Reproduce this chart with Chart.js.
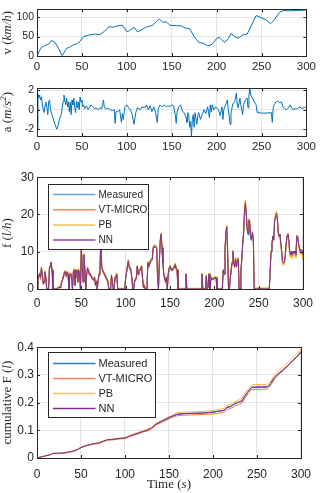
<!DOCTYPE html>
<html lang="en">
<head>
<meta charset="UTF-8">
<title>Fuel consumption</title>
<script src="https://cdn.jsdelivr.net/npm/chart.js"></script>
<style>
  body { margin: 0; background: #fff; }
  .wrap { position: relative; width: 320px; height: 493px; overflow: hidden; }
  canvas { position: absolute; left: 0; }
</style>
</head>
<body>
<div class="wrap">
  <canvas id="velChart" width="320" height="76" style="top:0px"></canvas>
  <canvas id="accChart" width="320" height="77" style="top:79px"></canvas>
  <canvas id="fuelChart" width="320" height="142" style="top:167px"></canvas>
  <canvas id="cumChart" width="320" height="156" style="top:337px"></canvas>
</div>
<script>
// ---- data ----
const timeTicks = [0, 50, 100, 150, 200, 250, 300]
const velTicks = [0, 50, 100]
const accTicks = [-2, 0, 2]
const fuelTicks = [0, 10, 20, 30]
const cumTicks = [0, 0.1, 0.2, 0.3, 0.4]
const seriesNames = ['Measured', 'VT-MICRO', 'PB', 'NN']

const velTime = [0,3,5,10,13,16,20,24,27,28, 30,33,36,40,45,48,52,55,60,65,
  70,75,80,85,90,95,100,103,108,112, 117,122,128,133,136,140,144,148,155,160,
  165,170,175,180,185,190,195,200,203,205, 209,213,216,220,224,230,234,238,244,250,
  255,260,264,270,275,280,290,300]
const velocity = [0,15,22,28,30,40,35,20,5,1, 8,20,22,28,32,38,50,52,55,56,
  55,63,75,74,78,79,63,65,74,62, 68,75,78,88,95,87,88,79,78,78,
  72,70,50,35,33,26,30,45,48,43, 35,45,58,50,46,55,56,75,104,98,
  93,83,92,112,117,116,117,118]

const accTime = [0,1,2,3,4,5,6,7,8,9, 10,11,12,13,14,15,16,17,18,20,
  22,23,25,27,29,30,31,32,33,34, 35,36,37,38,39,40,41,42,43,44,
  45,46,47,48,49,50,51,52,53,55, 57,60,62,64,66,68,70,72,73,74,
  75,78,80,82,84,86,87,88,90,92, 94,95,96,98,100,102,104,106,108,110,
  112,115,117,120,122,124,126,128,130,132, 134,135,137,139,142,144,146,148,150,152,
  154,155,156,158,160,162,164,166,167,168, 169,170,171,172,173,174,175,176,178,179,
  180,182,184,186,188,190,192,193,194,195, 197,199,200,202,204,206,207,208,210,212,
  213,214,215,216,218,220,222,223,224,226, 227,228,229,230,232,234,235,236,237,238,
  240,242,244,245,246,250,255,261,262,263, 264,266,268,270,272,274,276,278,280,282,
  283,285,287,290,292,294,296,298,300]
const accel = [-2,1.6,1.2,1.5,1.0,1.3,0.5,0,-0.3,0.5, 0.8,0.2,-0.5,0.8,1.0,0,-0.3,-0.6,-0.9,-1.5,
  -2.0,-1.8,-1.0,-0.5,0.8,1.5,1.0,0.5,1.2,0.3, 0.8,-0.2,0.8,-0.5,1.0,0.5,1.2,0.2,-0.3,0.9,
  0.2,0.8,0,1.3,0.8,1.0,0.3,0.5,0.1,0.4, 0,0.5,0.3,0.1,0.2,0,0.2,0.1,0.5,1.0,
  0.2,0.1,0.1,0,-0.1,0,-1.4,-0.2,-0.2,0, -1.3,-0.4,-1.0,0.3,0.5,0.2,0,-0.5,-1.5,-0.3,
  0.2,0,0.3,0.2,0.5,0,0.4,-0.2,0.3,-0.3, -1.3,0.1,0.5,0.3,0.5,0.3,0.4,0.3,0.5,0.4,
  -0.5,-1.4,-0.2,0.3,0.5,-0.2,-0.3,-0.8,-1.3,-0.3, -0.5,-1.8,-1.2,-2.7,-1.0,-0.5,-1.8,-0.3,-1.5,-0.7,
  -0.3,-1.0,-0.5,0,-0.4,0.3,-0.8,0.5,-0.2,0.5, 0,0.3,0.2,0,-0.6,0.3,-1.0,0,0.5,1.0,
  0,-0.6,-1.5,-0.4,0.6,0.8,1.7,0.6,0.2,1.2, 0.5,0,-0.5,0.5,1.0,1.2,0.2,1.5,2.2,1.5,
  1.2,0.8,0.5,-0.2,-0.3,-0.35,-0.35,-0.3,-1.3,0.2, 0.5,0.8,0.9,0.7,0.8,0.3,0.1,0,0.2,0.5,
  0.3,0,0.1,0.1,0.3,0.2,0.1,0.3,0.1]

const fuelTime = [0,1,2,3,4,5,6,7,8,9, 10,11,13,14,15,16,17,18,23,24,
  26,27,28,30,31,32,33,34,35,36, 37,38,39,40,41,42,43,44,45,46,
  47,48,49,50,51,52,53,54,55,56, 57,58,59,60,62,64,65,66,67,68,
  69,70,71,72,73,74,76,78,80,81, 83,84,85,86,87,88,89,90,91,99,
  100,102,103,104,106,107,108,109,110,112, 113,114,115,116,118,119,120,121,122,124,
  125,126,128,130,131,133,135,136,137,138, 139,140,141,142,143,144,145,146,147,148,
  149,150,152,154,156,157,158,159,167,168, 169,185,186,187,190,191,192,193,194,195,
  196,197,198,200,202,203,209,210,211,212, 213,214,215,216,217,218,219,220,221,222,
  223,224,225,226,227,228,229,230,231,232, 233,234,235,236,237,238,239,240,241,242,
  243,244,245,262,263,264,265,266,267,268, 269,270,271,272,273,274,275,276,277,278,
  279,280,281,282,283,284,285,286,287,288, 289,290,291,292,293,294,295,296,297,298,
  299,300]
const fuelMeasured = [0,2.5,3.5,4,3,5.5,4,1.5,2,4.5, 3,0,0,5.5,6,7,5,0,0,0.5,
  0.5,1,2,3.5,4.5,4.5,3.5,4.5,4,0, 3.5,4,3.5,0,4.5,5,1,5,4,2,
  5,4,0,11,6,2,9,5,0,4, 5.5,5,4,4,3,2.5,3,1,2,0,
  2.5,4,5,13,6,5,4,3,2,0, 0,3.5,2,0,0,3,3,4,0,0,
  3,6,7.5,6,5,3,0,0,2,3, 6,4,5,5,6,3,0.5,1,0,0,
  7,6,7.5,8,11,11.5,11,3,0,7, 13,14.5,11,7,4,3,2,3,0,4,
  5.5,6,5,5.5,6.5,5.5,5,0,0,4, 0,0,4,0,0,3.5,0,0.5,4,0,
  2.5,3,2.5,3,3,0,0,5,4,10, 15,16.5,10,0,0,3,5,7,10,7,
  6,8,6,7.5,8,0,0,5,8,12, 15,20,22.5,20,16,14.5,18,17,13.5,13,
  15,13,0,0,5,10,12,14,13,18, 19,19.5,19,15,14,14.5,12,10,7,7,
  7,9,12,14,14.5,13,10,9,10,9, 10,9.5,10,9,14,14,12,11,10,10.5,
  10,9]
const fuelVtMicro = [0,2.2,3.2,3.6,2.6,5.2,3.6,1.2,1.6,4.2, 2.7,0,0,5.2,5.7,6.8,4.6,0,0,0.3,
  0.3,0.8,1.7,3.2,4.2,4.3,3.2,4.2,3.7,0, 3.2,3.7,3.2,0,4.2,4.8,0.8,4.7,3.7,1.7,
  4.7,3.7,0,10.8,5.7,1.7,8.8,4.7,0,3.7, 5.2,4.7,3.7,3.7,2.7,2.2,2.7,0.8,1.7,0,
  2.2,3.7,4.7,12.8,5.7,4.7,3.7,2.7,1.7,0, 0,3.2,1.7,0,0,2.7,2.8,3.7,0,0,
  2.7,5.8,7.3,5.7,4.7,2.7,0,0,1.7,2.7, 5.8,3.7,4.7,4.8,5.7,2.7,0.3,0.8,0,0,
  6.8,5.8,7.2,7.8,10.8,11.3,10.8,2.6,0,6.8, 12.8,14.3,10.8,6.7,3.6,2.6,1.6,2.7,0,3.7,
  5.2,5.8,4.8,5.2,6.3,5.2,4.7,0,0,3.8, 0,0,3.8,0,0,3.3,0,0.3,3.8,0,
  2.3,2.8,2.4,2.8,2.8,0,0,4.8,3.8,9.8, 14.8,16.8,9.8,0,0,2.8,4.8,6.8,9.8,6.8,
  5.8,7.8,5.8,7.3,7.8,0,0,4.8,7.8,11.8, 14.8,20.5,23.2,20.5,16.2,15,18.5,17.5,14,13.5,
  14.8,13.2,0,0,5,10.2,12.5,14.2,13.2,18.5, 19.5,20.3,19.5,15.3,14.2,14.8,12.2,10,7,7,
  7,9.2,12.2,14.3,14.8,13.2,10,9,10,9, 10,9.5,10,9,14.3,14.2,12.2,11,10,10.5,
  10,9.2]
const fuelPb = [0,2.8,3.8,4.4,3.4,6,4.4,1.8,2.4,5, 3.4,0.2,0.2,6,6.5,7.4,5.4,0.2,0.2,0.7,
  0.7,1.3,2.3,3.9,4.9,5,3.9,4.9,4.4,0.2, 3.9,4.4,3.9,0.2,4.9,5.5,1.3,5.4,4.4,2.3,
  5.5,4.4,0.2,11.4,6.4,2.3,9.5,5.4,0.2,4.4, 6,5.4,4.4,4.4,3.4,2.8,3.4,1.3,2.3,0.2,
  2.9,4.4,5.4,13.5,6.4,5.4,4.4,3.4,2.3,0.2, 0.2,3.9,2.3,0.2,0.2,3.4,3.4,4.4,0.2,0.2,
  3.4,6.4,8,6.4,5.4,3.4,0.2,0.2,2.3,3.4, 6.4,4.4,5.4,5.5,6.5,3.4,0.7,1.3,0.2,0.2,
  7.5,6.5,8,8.5,11.5,12,11.5,3.4,0.2,7.5, 13.5,15,11.4,7.4,4.4,3.4,2.3,3.4,0.2,4.4,
  6,6.5,5.5,6,7,6,5.4,0.2,0.2,4.3, 0.2,0.2,4.3,0.2,0.2,3.8,0.2,0.7,4.3,0.2,
  2.8,3.4,2.8,3.4,3.4,0.2,0.2,5.4,4.4,10.5, 15.5,17,10.5,0.2,0.2,3.4,5.4,7.5,10.5,7.5,
  6.4,8.5,6.4,8,8.5,0.2,0.2,5.4,8.5,12.5, 15.5,21,23.9,21,17,15.5,19,18.5,14.5,14,
  15.5,13.8,0.3,0.3,5.5,10.5,12.5,14,12.8,18.5, 20,21,19.8,15,13.8,14.2,11.5,9.5,6.5,6.5,
  6.5,8.5,11.5,14.2,15,12.5,9.2,8.3,9.2,8.3, 9.2,8.8,9.2,8.3,14.5,13.5,11.5,10.2,9.2,9.6,
  9,8]
const fuelNn = [0,2.6,3.6,4.2,3.2,5.7,4.1,1.6,2.1,4.6, 3.1,0,0,5.6,6.2,7.2,5.1,0,0,0.4,
  0.4,1,2,3.6,4.6,4.7,3.6,4.6,4.1,0, 3.6,4.1,3.6,0,4.6,5.2,1.1,5.1,4.1,2.1,
  5.1,4.1,0,11.2,6.1,2.1,9.2,5.1,0,4.1, 5.6,5.1,4.1,4.1,3.1,2.6,3.1,1.1,2.1,0,
  2.6,4.1,5.1,13.2,6.1,5.1,4.1,3.1,2.1,0, 0,3.6,2.1,0,0,3.1,3,3.9,0,0,
  3.1,6.1,7.6,6.1,5.1,3.1,0,0,2.1,3.1, 6.1,4.1,5.1,5.1,6.1,3.1,0.5,1,0,0,
  7.1,6.1,7.6,8.1,11.2,11.6,11.1,3.1,0,7.1, 13.2,14.8,11.1,7.1,4.1,3.1,2.1,3.1,0,4.1,
  5.6,6.1,5.1,5.6,6.6,5.6,5.1,0,0,4, 0,0,4,0,0,3.5,0,0.5,4,0,
  2.5,3,2.5,3,3,0,0,5.1,4.1,10.2, 15.2,16.7,10.2,0,0,3.1,5.1,7.1,10.1,7.1,
  6.1,8.1,6.1,7.6,8.1,0,0,5.1,8.1,12.2, 15.2,20.5,23.2,20.5,16.5,15.2,18.5,17.8,14.2,13.6,
  15.2,13.4,0,0,5.1,10.1,12.2,14.2,13.2,18.3, 19.4,20.2,19.4,15.3,14.2,14.7,12.2,10.1,7.2,7.2,
  7.2,9.2,12.2,14.3,14.8,13.2,10.2,9.2,10.2,9.2, 10.2,9.7,10.2,9.3,14.2,14.1,12.2,11.2,10.2,10.6,
  10.2,9.8]

const cumTime = [0,5,10,15,17,20,25,30,35,40, 45,50,55,60,65,70,75,80,85,90,
  95,100,105,110,115,120,125,130,135,140, 145,150,155,160,165,170,180,190,200,205,
  210,213,216,220,225,230,233,236,240,244, 250,255,262,265,270,275,280,285,290,295,
  300]
const cumMeasured = [0,0.004,0.008,0.012,0.016,0.017,0.017,0.018,0.021,0.024,
  0.029,0.038,0.044,0.048,0.052,0.054,0.06,0.066,0.067,0.069,
  0.071,0.072,0.079,0.085,0.09,0.096,0.1,0.108,0.122,0.13,
  0.137,0.145,0.152,0.158,0.159,0.16,0.161,0.162,0.165,0.168,
  0.17,0.172,0.182,0.185,0.196,0.202,0.206,0.222,0.24,0.254,
  0.255,0.255,0.256,0.266,0.29,0.305,0.318,0.332,0.348,0.364,
  0.381]
const cumVtMicro = [0,0.004,0.008,0.012,0.015,0.016,0.016,0.017,0.02,0.023,
  0.028,0.037,0.043,0.047,0.05,0.052,0.058,0.064,0.065,0.067,
  0.069,0.07,0.077,0.082,0.087,0.093,0.097,0.105,0.118,0.126,
  0.133,0.141,0.148,0.153,0.154,0.155,0.156,0.157,0.159,0.161,
  0.163,0.165,0.175,0.178,0.188,0.194,0.198,0.214,0.233,0.247,
  0.248,0.248,0.249,0.259,0.285,0.302,0.316,0.331,0.348,0.366,
  0.385]
const cumPb = [0,0.004,0.008,0.012,0.016,0.017,0.017,0.018,0.021,0.025,
  0.03,0.039,0.045,0.049,0.053,0.055,0.061,0.067,0.068,0.07,
  0.073,0.074,0.081,0.087,0.092,0.098,0.103,0.111,0.125,0.133,
  0.141,0.149,0.157,0.164,0.165,0.166,0.167,0.168,0.172,0.175,
  0.178,0.18,0.191,0.194,0.204,0.21,0.215,0.232,0.25,0.264,
  0.265,0.265,0.266,0.276,0.3,0.316,0.33,0.344,0.36,0.376,
  0.393]
const cumNn = [0,0.004,0.008,0.012,0.016,0.017,0.017,0.018,0.021,0.024,
  0.029,0.038,0.044,0.048,0.052,0.054,0.06,0.066,0.067,0.069,
  0.071,0.072,0.079,0.085,0.09,0.096,0.1,0.108,0.122,0.13,
  0.138,0.146,0.153,0.159,0.16,0.161,0.162,0.163,0.166,0.169,
  0.171,0.173,0.184,0.187,0.197,0.203,0.207,0.223,0.241,0.256,
  0.257,0.257,0.258,0.268,0.292,0.307,0.32,0.334,0.35,0.366,
  0.383]

// ---- style ----
const sans = '"Liberation Sans", Arial, sans-serif'
const serif = '"Liberation Serif", "DejaVu Serif", serif'
const ink = '#262626'
const gridColor = '#e3e3e3'
const colors = ['#0072BD', '#D95319', '#EDB120', '#7E2F8E']

function pts(xs, ys) { return xs.map((x, i) => ({ x, y: ys[i] })) }

function lineSet(label, data, color, order) {
  return { label, data, borderColor: color, borderWidth: 1, pointRadius: 0, tension: 0, fill: false, order }
}

// rich text: parts are [text, 'r' | 'i' | 'sup']
function partFont(kind, size) {
  if (kind == 'i') return `italic ${size}px ${serif}`
  if (kind == 'sup') return `italic ${Math.round(size * 0.7)}px ${serif}`
  return `${size}px ${serif}`
}
function drawRich(ctx, parts, cx, cy, size, rotate) {
  ctx.save()
  ctx.translate(cx, cy)
  if (rotate) ctx.rotate(-Math.PI / 2)
  let total = 0
  parts.forEach(p => { ctx.font = partFont(p[1], size); total += ctx.measureText(p[0]).width })
  let x = -total / 2
  ctx.fillStyle = ink
  ctx.textBaseline = 'middle'
  ctx.textAlign = 'left'
  parts.forEach(p => {
    ctx.font = partFont(p[1], size)
    ctx.fillText(p[0], x, p[1] == 'sup' ? -size * 0.35 : 0)
    x += ctx.measureText(p[0]).width
  })
  ctx.restore()
}

// box, inward ticks, labels and inset legend, MATLAB style
function axesPlugin(cfg) {
  return {
    id: 'matlabAxes',
    afterDatasetsDraw(chart) {
      const { ctx, chartArea: a, scales } = chart
      ctx.save()
      ctx.strokeStyle = ink
      ctx.lineWidth = 1
      ctx.beginPath()
      scales.x.ticks.forEach(t => {
        const px = Math.round(scales.x.getPixelForValue(t.value)) + 0.5
        ctx.moveTo(px, a.bottom); ctx.lineTo(px, a.bottom - 3)
        ctx.moveTo(px, a.top); ctx.lineTo(px, a.top + 3)
      })
      scales.y.ticks.forEach(t => {
        const py = Math.round(scales.y.getPixelForValue(t.value)) + 0.5
        ctx.moveTo(a.left, py); ctx.lineTo(a.left + 3, py)
        ctx.moveTo(a.right, py); ctx.lineTo(a.right - 3, py)
      })
      ctx.stroke()
      ctx.strokeRect(Math.round(a.left) + 0.5, Math.round(a.top) + 0.5, Math.round(a.width), Math.round(a.height))

      if (cfg.legend) {
        const L = cfg.legend
        const bx = Math.round(a.left + L.x) + 0.5, by = Math.round(a.top + L.y) + 0.5
        ctx.fillStyle = '#fff'
        ctx.fillRect(bx, by, L.w, L.h)
        ctx.strokeStyle = ink
        ctx.strokeRect(bx, by, L.w, L.h)
        ctx.font = `${L.size}px ${sans}`
        ctx.textBaseline = 'middle'
        seriesNames.forEach((name, i) => {
          const ry = by + L.first + i * L.step
          ctx.strokeStyle = L.colors[i]
          ctx.lineWidth = 1.5
          ctx.beginPath()
          ctx.moveTo(bx + 4.5, ry); ctx.lineTo(bx + 47, ry)
          ctx.stroke()
          ctx.fillStyle = ink
          ctx.fillText(name, bx + 50, ry + 0.5)
        })
      }
      ctx.restore()
    },
    afterDraw(chart) {
      const { ctx, chartArea: a } = chart
      drawRich(ctx, cfg.ylabel, cfg.ylabelX, (a.top + a.bottom) / 2, cfg.labelSize, true)
      if (cfg.xlabel) drawRich(ctx, cfg.xlabel, (a.left + a.right) / 2, cfg.xlabelY, cfg.labelSize, false)
    }
  }
}

function makeChart(id, datasets, cfg) {
  return new Chart(document.getElementById(id), {
    type: 'line',
    data: { datasets },
    options: {
      responsive: false,
      animation: false,
      events: [],
      layout: { padding: { top: 1, right: 11, left: 0, bottom: 0 } },
      plugins: { legend: { display: false }, tooltip: { enabled: false } },
      scales: {
        x: {
          type: 'linear', min: 0, max: 300,
          afterBuildTicks: s => { s.ticks = timeTicks.map(v => ({ value: v })) },
          afterFit: s => { s.height = cfg.xh },
          grid: { color: gridColor, drawTicks: false },
          border: { display: false },
          ticks: { padding: cfg.xpad, color: ink, maxRotation: 0, autoSkip: false, font: { family: sans, size: cfg.xfs } }
        },
        y: {
          type: 'linear', min: cfg.ymin, max: cfg.ymax,
          afterBuildTicks: s => { s.ticks = cfg.yticks.map(v => ({ value: v })) },
          afterFit: s => { s.width = 37 },
          grid: { color: gridColor, drawTicks: false },
          border: { display: false },
          ticks: { padding: 3, color: ink, font: { family: sans, size: cfg.yfs } }
        }
      }
    },
    plugins: [axesPlugin(cfg)]
  })
}

makeChart('velChart', [lineSet('v', pts(velTime, velocity), colors[0], 1)], {
  xh: 20, xpad: 4, xfs: 11.5, yfs: 10.5, ymin: 0, ymax: 120, yticks: velTicks,
  ylabel: [['v (', 'r'], ['km/h', 'i'], [')', 'r']], ylabelX: 8, labelSize: 13
})

makeChart('accChart', [lineSet('a', pts(accTime, accel), colors[0], 1)], {
  xh: 20, xpad: 4, xfs: 11.5, yfs: 10.5, ymin: -2.7, ymax: 2.2, yticks: accTicks,
  ylabel: [['a (', 'r'], ['m/s', 'i'], ['2', 'sup'], [')', 'r']], ylabelX: 8, labelSize: 13
})

makeChart('fuelChart', [
  lineSet(seriesNames[0], pts(fuelTime, fuelMeasured), colors[0], 4),
  lineSet(seriesNames[1], pts(fuelTime, fuelVtMicro), colors[1], 3),
  lineSet(seriesNames[2], pts(fuelTime, fuelPb), colors[2], 2),
  lineSet(seriesNames[3], pts(fuelTime, fuelNn), colors[3], 1)
], {
  xh: 20, xpad: 7, xfs: 12, yfs: 12, ymin: 0, ymax: 30, yticks: fuelTicks,
  ylabel: [['f (', 'r'], ['l/h', 'i'], [')', 'r']], ylabelX: 8, labelSize: 13,
  legend: { x: 10.5, y: 7, w: 100, h: 65, first: 10, step: 15.2, size: 10,
    colors: ['#5aa9e0', '#ee8a64', '#f3c25a', '#8e44a6'] }
})

makeChart('cumChart', [
  lineSet(seriesNames[0], pts(cumTime, cumMeasured), colors[0], 4),
  lineSet(seriesNames[1], pts(cumTime, cumVtMicro), '#e8764a', 3),
  lineSet(seriesNames[2], pts(cumTime, cumPb), '#f2bf45', 2),
  lineSet(seriesNames[3], pts(cumTime, cumNn), colors[3], 1)
], {
  xh: 35, xpad: 9, xfs: 12, yfs: 12, ymin: 0, ymax: 0.4, yticks: cumTicks,
  ylabel: [['cumulative F (', 'r'], ['l', 'i'], [')', 'r']], ylabelX: 8, labelSize: 13,
  xlabel: [['Time (', 'r'], ['s', 'i'], [')', 'r']], xlabelY: 147.5,
  legend: { x: 10.5, y: 5, w: 107, h: 65, first: 11, step: 15, size: 11,
    colors: ['#2a80c6', '#ee8560', '#f5c45a', '#7E2F8E'] }
})
</script>
</body>
</html>
